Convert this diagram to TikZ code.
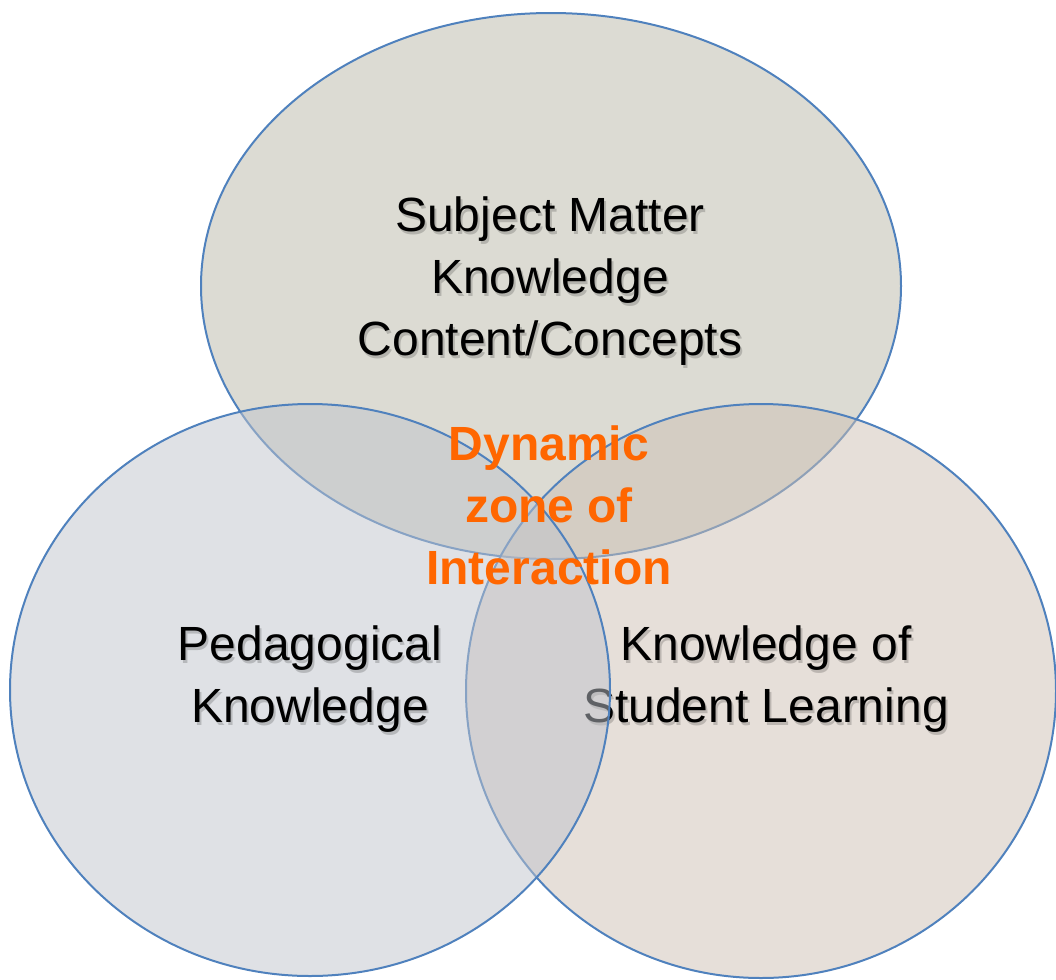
\documentclass[tikz,border=0pt]{standalone}
\usepackage{fontspec}
\setmainfont{Liberation Sans}
\usetikzlibrary{shapes.geometric}
\definecolor{rimblue}{HTML}{4F81BD}
\definecolor{smkfill}{RGB}{185,183,167}
\definecolor{pkfill}{RGB}{191,195,203}
\definecolor{kslfill}{RGB}{205,191,179}
\definecolor{zoneorange}{HTML}{FF6600}
\tikzset{
  bubble/.style={ellipse, draw=rimblue, line width=1pt, fill opacity=0.5, inner sep=0pt},
  areatext/.style={align=center, anchor=base, font=\fontsize{24}{31}\selectfont},
  areashadow/.style={areatext, text=black, opacity=0.18, xshift=1pt, yshift=-1.5pt},
  zonetext/.style={align=center, anchor=base, text=zoneorange, font=\fontsize{24}{31}\selectfont\bfseries}
}
\begin{document}
\begin{tikzpicture}[x=0.5pt, y=-0.5pt]
  \useasboundingbox (0,0) rectangle (1056,980);
  % top ellipse
  \node (smk) [bubble, fill=smkfill, minimum width=350pt, minimum height=273pt] at (551,286) {};
  \node (smkshadow) [areashadow] at (550,355) {Subject Matter\\Knowledge\\Content/Concepts};
  \node (smktext) [areatext] at (550,355) {Subject Matter\\Knowledge\\Content/Concepts};
  % right circle, drawn under the left one
  \node (ksl) [bubble, fill=kslfill, minimum width=295pt, minimum height=287pt] at (761,691) {};
  \node (kslshadow) [areashadow] at (766,722) {Knowledge of\\Student Learning};
  \node (ksltext) [areatext] at (766,722) {Knowledge of\\Student Learning};
  % left circle
  \node (pk) [bubble, fill=pkfill, minimum width=300pt, minimum height=286pt] at (310,690) {};
  \node (pkshadow) [areashadow] at (310,722) {Pedagogical\\Knowledge};
  \node (pktext) [areatext] at (310,722) {Pedagogical\\Knowledge};
  % centre
  \node (zone) [zonetext] at (549,584) {Dynamic\\zone of\\Interaction};
\end{tikzpicture}
\end{document}
